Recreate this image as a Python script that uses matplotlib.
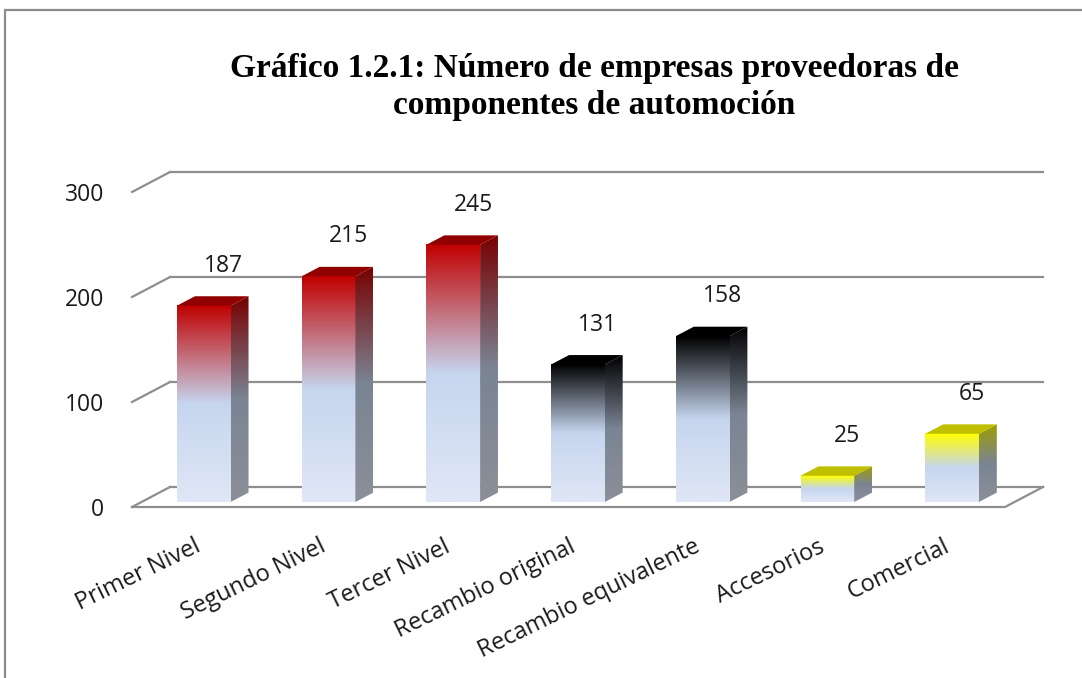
import numpy as np
import matplotlib
matplotlib.use("Agg")
import matplotlib.pyplot as plt
from matplotlib.patches import Polygon, Rectangle
from matplotlib.colors import to_rgb

# ---------------- data ----------------
categories = ["Primer Nivel", "Segundo Nivel", "Tercer Nivel", "Recambio original",
              "Recambio equivalente", "Accesorios", "Comercial"]
values = [187, 215, 245, 131, 158, 25, 65]
bar_colors = ["#C00000", "#C00000", "#C00000", "#000000", "#000000", "#FFFF00", "#FFFF00"]
y_ticks = [0, 100, 200, 300]
title = "Gráfico 1.2.1: Número de empresas proveedoras de\ncomponentes de automoción"

# ---------------- style ----------------
W, H = 1082, 678
plt.rcParams["font.family"] = ["Open Sans", "DejaVu Sans"]
GRID = "#8E8E8E"
BLUE_MID = np.array(to_rgb("#C6D5EE"))
BLUE_BOT = np.array(to_rgb("#E0E7F6"))
BAR_W = 0.43
D0, D1 = 0.25, 0.72          # bar depth range (fraction of floor depth)

fig = plt.figure(figsize=(W / 100, H / 100), dpi=100)
fig.patch.set_facecolor("white")

# front plane of the 3-D box
ax = fig.add_axes([132 / W, 1 - 507 / H, (1005 - 132) / W, (507 - 192) / H])
n = len(categories)
XMIN, XMAX = -0.5, n - 0.5
YMIN, YMAX = 0, 300
ax.set_xlim(XMIN, XMAX)
ax.set_ylim(YMIN, YMAX)

# depth offset (full floor depth) expressed in data units
px_per_x = (1005 - 132) / (XMAX - XMIN)
px_per_y = (507 - 192) / (YMAX - YMIN)
DX = 38 / px_per_x
DY = 20 / px_per_y


def proj(x, y, d):
    return (x + d * DX, y + d * DY)


# walls / gridlines
for v in y_ticks:
    p0 = proj(XMIN, v, 1)
    p1 = proj(XMAX, v, 1)
    ax.plot([p0[0], p1[0]], [p0[1], p1[1]], color=GRID, lw=1.6, clip_on=False, zorder=1)
    q0 = proj(XMIN, v, 0)
    ax.plot([q0[0], p0[0]], [q0[1], p0[1]], color=GRID, lw=1.6, clip_on=False, zorder=1)
# floor front edge and right edge
f0 = proj(XMIN, 0, 0)
f1 = proj(XMAX, 0, 0)
f2 = proj(XMAX, 0, 1)
ax.plot([f0[0], f1[0], f2[0]], [f0[1], f1[1], f2[1]], color=GRID, lw=1.6,
        clip_on=False, zorder=1)


def gradient(top_rgb, scale=1.0, nrows=256):
    t = np.linspace(0, 1, nrows)[:, None]
    top = np.array(top_rgb)
    upper = top + (BLUE_MID - top) * np.clip(t / 0.5, 0, 1)
    lower = BLUE_MID + (BLUE_BOT - BLUE_MID) * np.clip((t - 0.5) / 0.5, 0, 1)
    col = np.where(t < 0.5, upper, lower) * scale
    return np.clip(col, 0, 1)[:, None, :]


for i, (v, c) in enumerate(zip(values, bar_colors)):
    rgb = to_rgb(c)
    xl, xr = i - BAR_W / 2, i + BAR_W / 2
    # front face
    a = proj(xl, 0, D0)
    b = proj(xr, v, D0)
    ax.imshow(gradient(rgb), extent=(a[0], b[0], a[1], b[1]), origin="upper",
              aspect="auto", interpolation="bilinear", zorder=3)
    # side face
    s = [proj(xr, 0, D0), proj(xr, 0, D1), proj(xr, v, D1), proj(xr, v, D0)]
    side = Polygon(s, closed=True, facecolor="none", edgecolor="none", transform=ax.transData)
    ax.add_patch(side)
    xs = [p[0] for p in s]
    ys = [p[1] for p in s]
    im = ax.imshow(gradient(rgb, 0.62), extent=(min(xs), max(xs), min(ys), max(ys)),
                   origin="upper", aspect="auto", interpolation="bilinear", zorder=3)
    im.set_clip_path(side)
    # top face
    tp = [proj(xl, v, D0), proj(xr, v, D0), proj(xr, v, D1), proj(xl, v, D1)]
    ax.add_patch(Polygon(tp, closed=True, facecolor=np.array(rgb) * 0.75,
                         edgecolor="none", zorder=4))
    # value label
    lx, ly = proj(i + 0.16, v + 38, D0)
    ax.text(lx, ly, f"{v}", ha="center", va="center", fontsize=16.5, color="#1a1a1a",
            zorder=5)

ax.set_xlim(XMIN, XMAX)
ax.set_ylim(YMIN, YMAX)
for sp in ax.spines.values():
    sp.set_visible(False)
ax.set_facecolor("none")
ax.set_yticks(y_ticks)
ax.set_yticklabels([str(t) for t in y_ticks], fontsize=16.5, color="#1a1a1a")
ax.tick_params(axis="y", length=0, pad=20)
ax.set_xticks(range(n))
ax.set_xticklabels(categories, rotation=26, ha="right", rotation_mode="anchor",
                   fontsize=17, color="#1a1a1a")
ax.tick_params(axis="x", length=0, pad=20)

# title
fig.text(594 / W, 1 - 87 / H, title, ha="center", va="center",
         fontfamily="Liberation Serif", fontweight="bold", fontsize=24,
         linespacing=1.22, color="black")

# chart frame
fig.add_artist(Rectangle((5 / W, -0.5), 2.0, 1.5 - 10 / H, transform=fig.transFigure,
                         fill=False, edgecolor="#8C8C8C", lw=1.6))

fig.savefig("out.png", dpi=100, facecolor="white")
